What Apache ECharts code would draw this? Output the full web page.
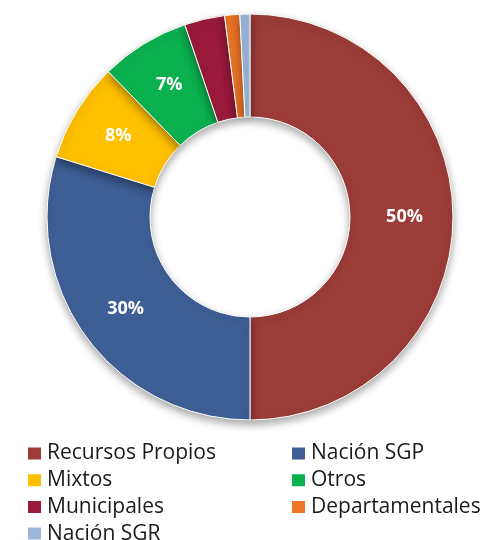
<!DOCTYPE html>
<html>
<head>
<meta charset="utf-8">
<script src="https://cdn.jsdelivr.net/npm/echarts@6/dist/echarts.min.js"></script>
<style>
  html, body { margin: 0; padding: 0; background: #fff; }
  #chart { width: 491px; height: 540px; }
</style>
</head>
<body>
<div id="chart"></div>
<script>
const categories = ["Recursos Propios", "Nación SGP", "Mixtos", "Otros", "Municipales", "Departamentales", "Nación SGR"]
const values = [50, 29.8, 7.9, 7.1, 3.2, 1.2, 0.8]
const labels = ["50%", "30%", "8%", "7%", "", "", ""]
const colors = ["#9b3c38", "#3e5f96", "#ffc000", "#0bb14f", "#9a1a3c", "#ec7527", "#9bb6da"]

const leftCol = [categories[0], categories[2], categories[4], categories[6]]
const rightCol = [categories[1], categories[3], categories[5]]

const legendBase = {
  orient: "vertical",
  top: 443,
  height: 120,
  padding: 0,
  itemWidth: 15,
  itemHeight: 14,
  itemGap: 5.7,
  icon: "rect",
  selectedMode: false,
  textStyle: { fontFamily: "Open Sans", fontSize: 21, lineHeight: 21, color: "#1a1a1a" }
}

let option = {
  animation: false,
  color: colors,
  legend: [
    Object.assign({}, legendBase, { left: 26, data: leftCol }),
    Object.assign({}, legendBase, { left: 290, data: rightCol })
  ],
  series: [
    {
      type: "pie",
      center: [250, 217],
      radius: [100, 203],
      startAngle: 90,
      clockwise: true,
      avoidLabelOverlap: false,
      itemStyle: {
        borderColor: "#fff",
        borderWidth: 1,
        shadowBlur: 8,
        shadowOffsetY: 4,
        shadowColor: "rgba(0,0,0,0.35)"
      },
      label: {
        show: true,
        position: "inside",
        color: "#fff",
        fontFamily: "Open Sans",
        fontWeight: "bold",
        fontSize: 18,
        formatter: function (p) { return labels[p.dataIndex] }
      },
      labelLine: { show: false },
      data: categories.map((name, i) => ({ name: name, value: values[i] }))
    }
  ]
}

let chartEl = echarts.init(document.getElementById("chart"))
chartEl.setOption(option)
</script>
</body>
</html>
